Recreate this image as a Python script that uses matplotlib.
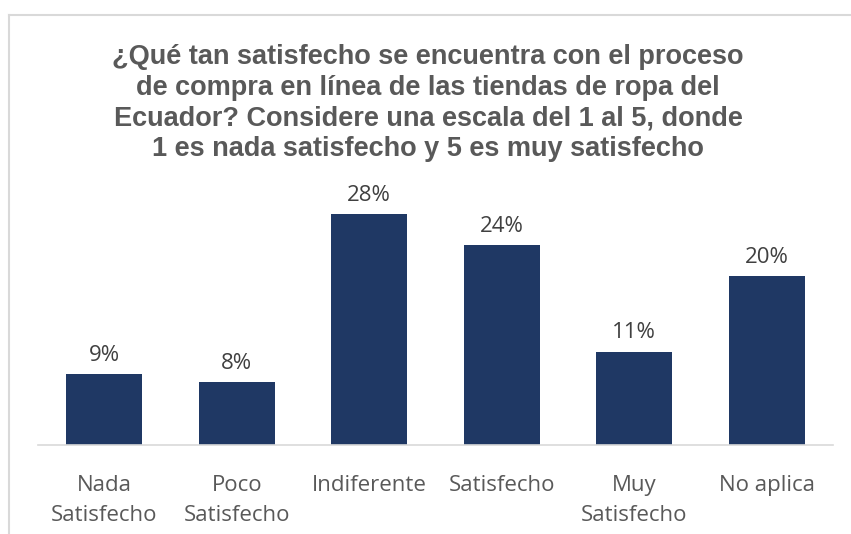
import matplotlib
matplotlib.use("Agg")
import matplotlib.pyplot as plt
from matplotlib.lines import Line2D

categories = ["Nada\nSatisfecho", "Poco\nSatisfecho", "Indiferente", "Satisfecho", "Muy\nSatisfecho", "No aplica"]
values = [8.6, 7.6, 27.9, 24.2, 11.3, 20.4]
title = ("¿Qué tan satisfecho se encuentra con el proceso\n"
         "de compra en línea de las tiendas de ropa del\n"
         "Ecuador? Considere una escala del 1 al 5, donde\n"
         "1 es nada satisfecho y 5 es muy satisfecho")

W, H = 851, 534
fig = plt.figure(figsize=(W / 100, H / 100), dpi=100)
fig.patch.set_facecolor("white")

# axes: x from 38 to 833 px, baseline at y=445, top at 197 px
ax = fig.add_axes([38 / W, (H - 445) / H, (833 - 38) / W, (445 - 197) / H])
x = list(range(len(categories)))
bars = ax.bar(x, values, width=0.57, color="#1F3864")
ax.set_xlim(-0.5, len(categories) - 0.5)
ax.set_ylim(0, 30)
for s in ["top", "right", "left"]:
    ax.spines[s].set_visible(False)
ax.spines["bottom"].set_color("#D9D9D9")
ax.spines["bottom"].set_linewidth(1.2)
ax.set_yticks([])
ax.set_xticks(x)
ax.set_xticklabels(categories, fontsize=16, color="#595959", family="Open Sans", linespacing=1.55)
ax.tick_params(axis="x", length=0, pad=21.5)

for xi, v in zip(x, values):
    ax.annotate(f"{round(v)}%", (xi, v), xytext=(0, 6), textcoords="offset points",
                ha="center", va="bottom", fontsize=16, color="#404040", family="Open Sans")

fig.text(428 / W, 1 - 103 / H, title, ha="center", va="center", fontsize=19.5,
         fontweight="bold", color="#595959", family="Liberation Sans", linespacing=1.22)

# chart frame (top and left edges visible)
fig.add_artist(Line2D([9 / W, 1], [1 - 15 / H, 1 - 15 / H], transform=fig.transFigure,
                      color="#D9D9D9", lw=1.5))
fig.add_artist(Line2D([9 / W, 9 / W], [0, 1 - 15 / H], transform=fig.transFigure,
                      color="#D9D9D9", lw=1.5))

fig.savefig("out.png", dpi=100, facecolor="white")
